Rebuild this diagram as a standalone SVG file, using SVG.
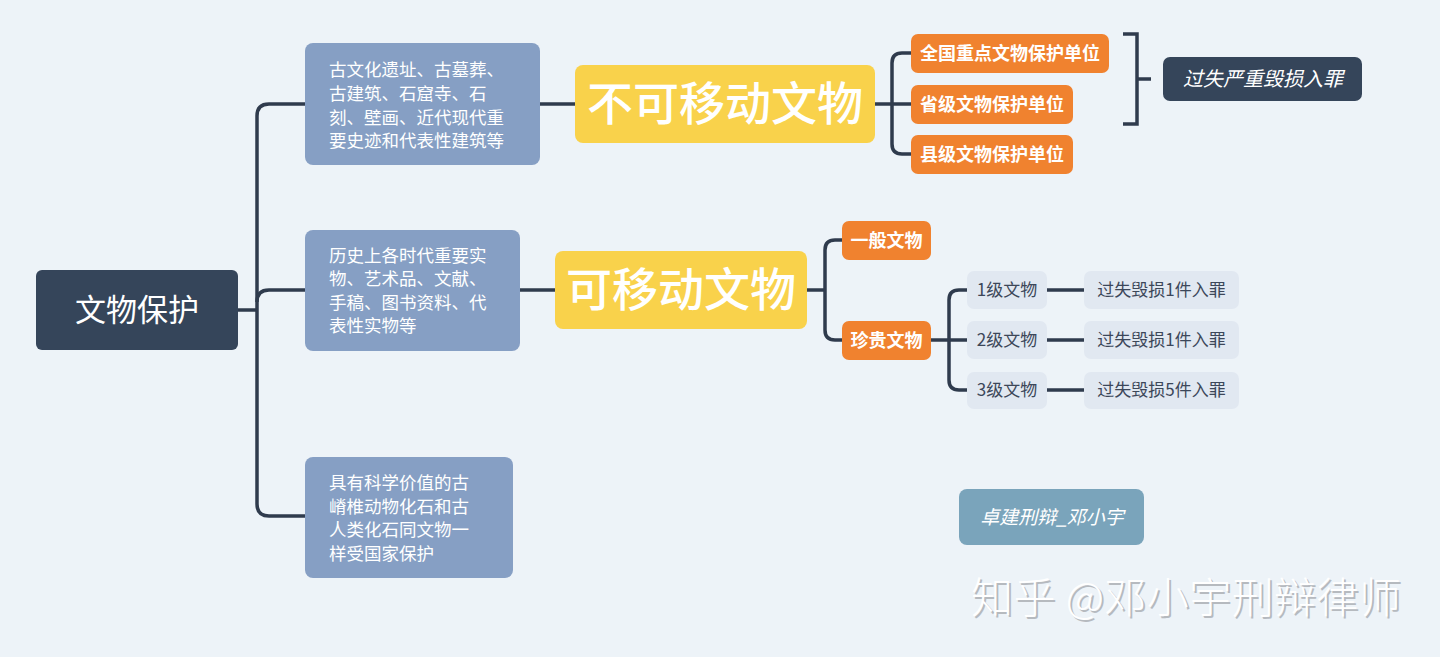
<svg xmlns="http://www.w3.org/2000/svg" width="1440" height="657" viewBox="0 0 1440 657">
<style>
text{font-family:"Noto Sans CJK SC","Noto Sans",sans-serif;}
.conn{fill:none;stroke:#2F3B4D;stroke-width:3.5;stroke-linecap:butt;}
.blue{fill:#869FC4;}
.blueT{fill:#fff;font-size:17.5px;}
.yel{fill:#F9D24B;}
.yelT{fill:#fff;font-size:46px;font-weight:500;text-anchor:middle;}
.org{fill:#F0822F;}
.orgT{fill:#fff;font-size:18px;font-weight:bold;text-anchor:middle;}
.gray{fill:#E1E8F1;}
.grayT{fill:#3C4759;font-size:17px;text-anchor:middle;}
</style>
<rect x="0" y="0" width="1440" height="657" fill="#EDF3F8"/>
<g id="connectors">
<path class="conn" d="M238,310 H257"/>
<path class="conn" d="M305,104 H269 Q257,104 257,116 V504 Q257,516 269,516 H305"/>
<path class="conn" d="M257,302 Q257,290 269,290 H305"/>
<path class="conn" d="M540,104 H575"/>
<path class="conn" d="M875,104 H911"/>
<path class="conn" d="M911,53 H902 Q892,53 892,63 V144 Q892,154 902,154 H911"/>
<path class="conn" d="M520,290 H555"/>
<path class="conn" d="M807,290 H825"/>
<path class="conn" d="M842,240 H835 Q825,240 825,250 V330 Q825,340 835,340 H842"/>
<path class="conn" d="M931,340 H967"/>
<path class="conn" d="M967,290 H959 Q949,290 949,300 V380 Q949,390 959,390 H967"/>
<path class="conn" d="M1047,290 H1084 M1047,340 H1084 M1047,390 H1084"/>
<path class="conn" d="M1123,34 H1137 V124 H1123 M1137,79 H1151"/>
</g>
<g id="root">
<rect x="36" y="270" width="202" height="80" rx="6" fill="#35455A"/>
<text x="137" y="321" fill="#fff" font-size="31" text-anchor="middle">文物保护</text>
</g>
<g id="n1">
<rect class="blue" x="305" y="43" width="235" height="122" rx="8"/>
<text class="blueT" x="329" y="76">古文化遗址、古墓葬、</text>
<text class="blueT" x="329" y="100">古建筑、石窟寺、石</text>
<text class="blueT" x="329" y="124">刻、壁画、近代现代重</text>
<text class="blueT" x="329" y="147">要史迹和代表性建筑等</text>
</g>
<g id="n2">
<rect class="blue" x="305" y="230" width="215" height="121" rx="8"/>
<text class="blueT" x="329" y="262">历史上各时代重要实</text>
<text class="blueT" x="329" y="285">物、艺术品、文献、</text>
<text class="blueT" x="329" y="309">手稿、图书资料、代</text>
<text class="blueT" x="329" y="332">表性实物等</text>
</g>
<g id="n3">
<rect class="blue" x="305" y="457" width="208" height="121" rx="8"/>
<text class="blueT" x="329" y="489">具有科学价值的古</text>
<text class="blueT" x="329" y="512.5">嵴椎动物化石和古</text>
<text class="blueT" x="329" y="536">人类化石同文物一</text>
<text class="blueT" x="329" y="560">样受国家保护</text>
</g>
<g id="immovable">
<rect class="yel" x="575" y="65" width="300" height="78" rx="8"/>
<text class="yelT" x="725" y="120">不可移动文物</text>
</g>
<g id="movable">
<rect class="yel" x="555" y="251" width="252" height="78" rx="8"/>
<text class="yelT" x="681" y="306">可移动文物</text>
</g>
<g id="national">
<rect class="org" x="911" y="34" width="198" height="39" rx="7"/>
<text class="orgT" x="1010" y="60">全国重点文物保护单位</text>
</g>
<g id="provincial">
<rect class="org" x="911" y="85" width="162" height="39" rx="7"/>
<text class="orgT" x="992" y="111">省级文物保护单位</text>
</g>
<g id="county">
<rect class="org" x="911" y="135" width="162" height="39" rx="7"/>
<text class="orgT" x="992" y="161">县级文物保护单位</text>
</g>
<g id="crime1">
<rect x="1163" y="57" width="199" height="44" rx="7" fill="#35455A"/>
<text x="1263" y="86" fill="#fff" font-size="20" font-style="italic" text-anchor="middle">过失严重毁损入罪</text>
</g>
<g id="general">
<rect class="org" x="842" y="221" width="89" height="39" rx="7"/>
<text class="orgT" x="886.5" y="247">一般文物</text>
</g>
<g id="precious">
<rect class="org" x="842" y="321" width="89" height="39" rx="7"/>
<text class="orgT" x="886.5" y="347">珍贵文物</text>
</g>
<g id="g1">
<rect class="gray" x="967" y="271" width="80" height="38" rx="7"/>
<text class="grayT" x="1007" y="296">1级文物</text>
</g>
<g id="g2">
<rect class="gray" x="967" y="321" width="80" height="38" rx="7"/>
<text class="grayT" x="1007" y="346">2级文物</text>
</g>
<g id="g3">
<rect class="gray" x="967" y="372" width="80" height="37" rx="7"/>
<text class="grayT" x="1007" y="396">3级文物</text>
</g>
<g id="c1">
<rect class="gray" x="1084" y="271" width="155" height="38" rx="7"/>
<text class="grayT" x="1161.5" y="296">过失毁损1件入罪</text>
</g>
<g id="c2">
<rect class="gray" x="1084" y="321" width="155" height="38" rx="7"/>
<text class="grayT" x="1161.5" y="346">过失毁损1件入罪</text>
</g>
<g id="c3">
<rect class="gray" x="1084" y="372" width="155" height="37" rx="7"/>
<text class="grayT" x="1161.5" y="396">过失毁损5件入罪</text>
</g>
<g id="author">
<rect x="959" y="489" width="185" height="56" rx="8" fill="#7AA4BB"/>
<text x="1052" y="524" fill="#fff" font-size="19" font-style="italic" text-anchor="middle">卓建刑辩_邓小宇</text>
</g>
<g id="watermark">
<text x="973" y="615" fill="#A9ADB2" font-size="42" font-weight="300" textLength="430" opacity="0.8">知乎 @邓小宇刑辩律师</text>
<text x="971" y="613" fill="#FFFFFF" font-size="42" font-weight="300" textLength="430">知乎 @邓小宇刑辩律师</text>
</g>
</svg>
